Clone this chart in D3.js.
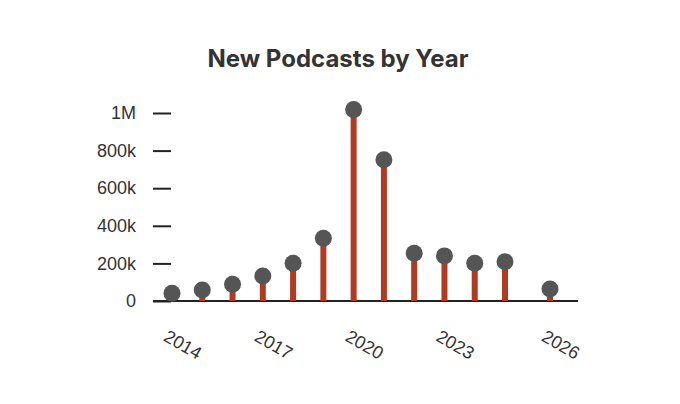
<!DOCTYPE html>
<html>
<head>
<meta charset="utf-8">
<script src="https://cdn.jsdelivr.net/npm/d3@7"></script>
<style>
  body { margin: 0; background: #fff; }
  svg { display: block; font-family: Inter, "Noto Sans", sans-serif; }
  .axis text { fill: #333; font-size: 18px; }
  .axis line { stroke: #222; stroke-width: 2; }
</style>
</head>
<body>
<svg id="chart" width="680" height="404"></svg>
<script>
// data
const years = [2014, 2015, 2016, 2017, 2018, 2019, 2020, 2021, 2022, 2023, 2024, 2025, 2026];
const newPodcasts = [41000, 59000, 89000, 133000, 201000, 334000, 1018000, 751000, 254000, 240000, 201000, 209000, 64000];
const yearTicks = [2014, 2017, 2020, 2023, 2026];
const countTicks = [0, 200000, 400000, 600000, 800000, 1000000];

const svg = d3.select('#chart');
const width = 680, height = 404;
const margin = { top: 113, right: 102, bottom: 103, left: 171 };

// last year sits a bit further out in the original
const x = d3.scaleLinear()
  .domain([2014, 2025, 2026])
  .range([172, 505, 550]);

const y = d3.scaleLinear()
  .domain([0, 1000000])
  .range([height - margin.bottom, margin.top]);

// title
svg.append('text')
  .attr('x', 338)
  .attr('y', 67)
  .attr('text-anchor', 'middle')
  .style('font-size', '24px')
  .style('font-weight', 700)
  .style('fill', '#333')
  .text('New Podcasts by Year');

// y axis (ticks only)
const yAxis = svg.append('g')
  .attr('class', 'axis')
  .attr('transform', `translate(${margin.left},0)`)
  .call(d3.axisLeft(y)
    .tickValues(countTicks)
    .tickSize(18)
    .tickPadding(17)
    .tickFormat(d => d === 0 ? '0' : d >= 1000000 ? (d / 1000000) + 'M' : (d / 1000) + 'k'));
yAxis.select('.domain').remove();

// baseline
svg.append('line')
  .attr('x1', margin.left - 18)
  .attr('x2', width - margin.right)
  .attr('y1', y(0))
  .attr('y2', y(0))
  .attr('stroke', '#222')
  .attr('stroke-width', 2);

// x axis labels, rotated
const xAxis = svg.append('g')
  .attr('class', 'axis')
  .attr('transform', `translate(0,${y(0)})`)
  .call(d3.axisBottom(x).tickValues(yearTicks).tickSize(0).tickFormat(d3.format('d')));
xAxis.select('.domain').remove();
xAxis.selectAll('text')
  .attr('y', 0)
  .attr('dy', 0)
  .attr('text-anchor', 'start')
  .attr('transform', 'translate(-10,39) rotate(30)');

// stems
svg.selectAll('.stem')
  .data(newPodcasts)
  .enter()
  .append('line')
  .attr('class', 'stem')
  .attr('x1', (d, i) => x(years[i]))
  .attr('x2', (d, i) => x(years[i]))
  .attr('y1', y(0))
  .attr('y2', d => y(d))
  .attr('stroke', '#b03a22')
  .attr('stroke-width', 6);

// heads
svg.selectAll('.dot')
  .data(newPodcasts)
  .enter()
  .append('circle')
  .attr('class', 'dot')
  .attr('cx', (d, i) => x(years[i]))
  .attr('cy', d => y(d))
  .attr('r', 8.5)
  .attr('fill', '#555');
</script>
</body>
</html>
